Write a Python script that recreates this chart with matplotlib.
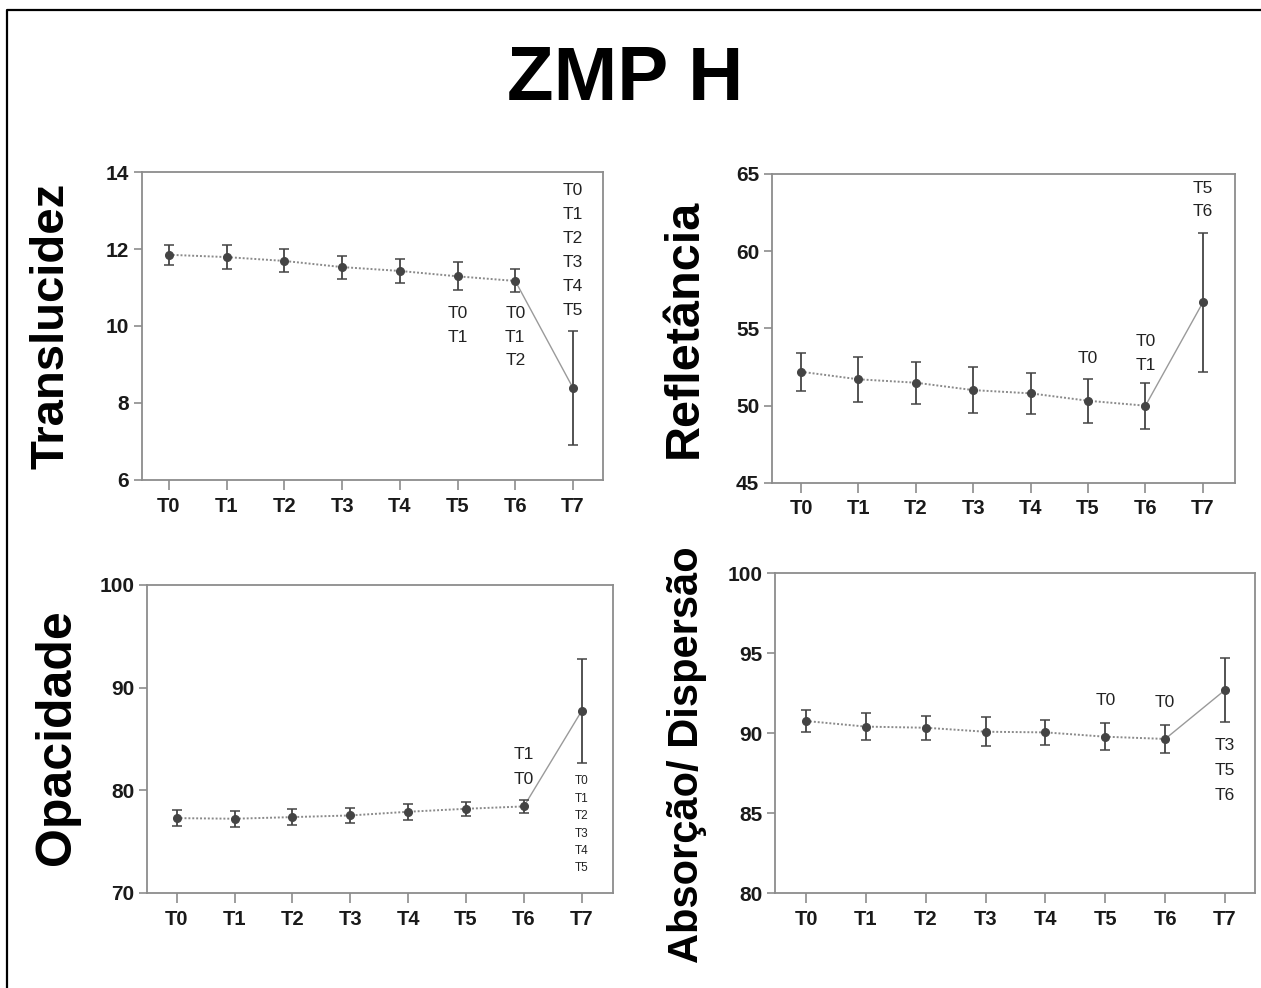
import matplotlib
matplotlib.use("Agg")
import matplotlib.pyplot as plt
from matplotlib.lines import Line2D

plt.rcParams['font.family'] = ['Liberation Sans', 'DejaVu Sans']

times = ['T0', 'T1', 'T2', 'T3', 'T4', 'T5', 'T6', 'T7']

transl_mean = [11.85, 11.79, 11.69, 11.53, 11.43, 11.29, 11.17, 8.39]
transl_err = [0.26, 0.32, 0.30, 0.30, 0.32, 0.36, 0.30, 1.48]

refl_mean = [52.19, 51.70, 51.48, 51.00, 50.79, 50.31, 49.99, 56.68]
refl_err = [1.24, 1.45, 1.35, 1.47, 1.33, 1.44, 1.48, 4.50]

opac_mean = [77.29, 77.23, 77.39, 77.55, 77.91, 78.20, 78.43, 87.74]
opac_err = [0.75, 0.80, 0.75, 0.72, 0.78, 0.70, 0.65, 5.07]

abs_mean = [90.77, 90.42, 90.35, 90.10, 90.06, 89.79, 89.65, 92.71]
abs_err = [0.69, 0.85, 0.74, 0.90, 0.79, 0.86, 0.89, 2.02]

# significance annotations: (x index, labels, y of first line, font size, line pitch in pt)
transl_notes = [(5, ['T0', 'T1'], 10.32, 12.5, 17.0),
                (6, ['T0', 'T1', 'T2'], 10.32, 12.5, 17.0),
                (7, ['T0', 'T1', 'T2', 'T3', 'T4', 'T5'], 13.52, 12.5, 17.3)]
refl_notes = [(5, ['T0'], 53.06, 12.5, 17.0),
              (6, ['T0', 'T1'], 54.14, 12.5, 17.0),
              (7, ['T5', 'T6'], 64.07, 12.5, 17.0)]
opac_notes = [(6, ['T1', 'T0'], 83.46, 12.5, 17.5),
              (7, ['T0', 'T1', 'T2', 'T3', 'T4', 'T5'], 80.86, 8.5, 12.5)]
abs_notes = [(5, ['T0'], 92.08, 12.5, 17.5),
             (6, ['T0'], 91.92, 12.5, 17.5),
             (7, ['T3', 'T5', 'T6'], 89.27, 12.5, 18.0)]

panels = [
    dict(rect=[0.1124, 0.5142, 0.3658, 0.3117], mean=transl_mean, err=transl_err,
         ylim=(6, 14), yticks=[6, 8, 10, 12, 14], notes=transl_notes, xlim=(-0.47, 7.52)),
    dict(rect=[0.6120, 0.5114, 0.3674, 0.3125], mean=refl_mean, err=refl_err,
         ylim=(45, 65), yticks=[45, 50, 55, 60, 65], notes=refl_notes, xlim=(-0.51, 7.56)),
    dict(rect=[0.1163, 0.0962, 0.3698, 0.3117], mean=opac_mean, err=opac_err,
         ylim=(70, 100), yticks=[70, 80, 90, 100], notes=opac_notes, xlim=(-0.52, 7.54)),
    dict(rect=[0.6146, 0.0958, 0.3806, 0.3239], mean=abs_mean, err=abs_err,
         ylim=(80, 100), yticks=[80, 85, 90, 95, 100], notes=abs_notes, xlim=(-0.52, 7.5)),
]

ylabels = [('Translucidez', 0.041, 0.670, 34),
           ('Refletância', 0.543, 0.668, 35),
           ('Opacidade', 0.045, 0.254, 36),
           ('Absorção/ Dispersão', 0.545, 0.236, 30)]

fig = plt.figure(figsize=(12.61, 9.88), dpi=100)

spine_c = '#8c8c8c'
mark_c = '#444444'
line_c = '#8a8a8a'

for p in panels:
    ax = fig.add_axes(p['rect'])
    x = list(range(len(times)))
    m = p['mean']
    e = p['err']
    ax.plot(x[:7], m[:7], linestyle=(0, (1, 1)), color=line_c, lw=1.4, zorder=2)
    ax.plot(x[6:], m[6:], linestyle='-', color='#9a9a9a', lw=1.0, zorder=2)
    ax.errorbar(x, m, yerr=e, fmt='o', color=mark_c, ms=5.5, elinewidth=1.3,
                capsize=3.5, capthick=1.1, zorder=3)
    ax.set_xlim(*p['xlim'])
    ax.set_ylim(*p['ylim'])
    ax.set_yticks(p['yticks'])
    ax.set_xticks(x)
    ax.set_xticklabels(times)
    for s in ax.spines.values():
        s.set_color(spine_c)
        s.set_linewidth(1.3)
    ax.tick_params(axis='y', length=6, width=1.2, color=spine_c, pad=3,
                   labelsize=15, labelcolor='#1a1a1a')
    ax.tick_params(axis='x', length=7, width=1.2, color=spine_c, pad=5,
                   labelsize=14.5, labelcolor='#1a1a1a')
    for lab in ax.get_xticklabels() + ax.get_yticklabels():
        lab.set_fontweight('bold')
    for xi, labs, y0, fs, pitch in p['notes']:
        for i, t in enumerate(labs):
            ax.annotate(t, xy=(xi, y0), xytext=(0, -i * pitch), textcoords='offset points',
                        ha='center', va='center', fontsize=fs, color='#222222')

for txt, xf, yf, fs in ylabels:
    fig.text(xf, yf, txt, rotation=90, ha='center', va='center', fontsize=fs,
             fontweight='bold', color='black')

fig.text(0.4956, 0.9185, 'ZMP H', ha='center', va='center', fontsize=55,
         fontweight='bold', color='black')

# outer frame (left and top edges visible)
fx = 7 / 1261
fy = 1 - 10 / 988
fig.add_artist(Line2D([fx, fx, 1.0], [0.0, fy, fy], transform=fig.transFigure,
                      color='black', lw=1.6))

fig.savefig('out.png', dpi=100)
